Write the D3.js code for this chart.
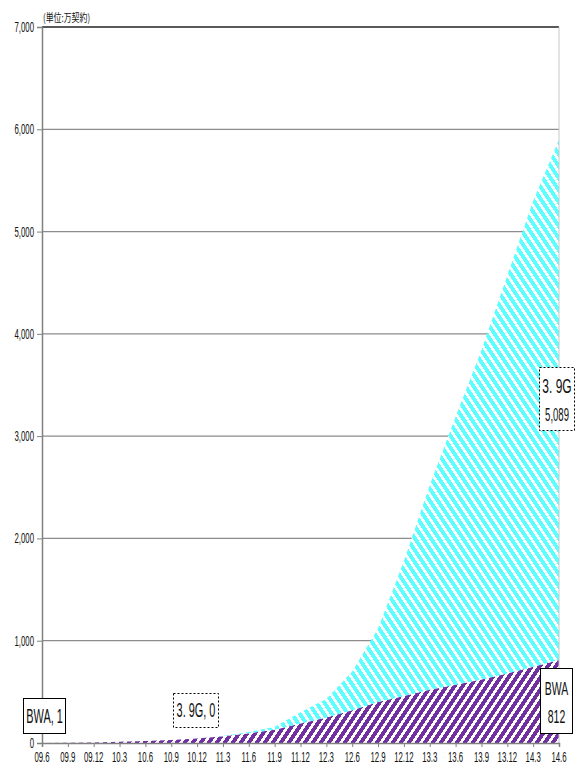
<!DOCTYPE html>
<html><head><meta charset="utf-8">
<script src="https://cdn.jsdelivr.net/npm/d3@7/dist/d3.min.js"></script>
<style>body{margin:0;background:#fff}svg{display:block}</style>
</head><body>
<script>
const quarters = ["09.6","09.9","09.12","10.3","10.6","10.9","10.12","11.3","11.6","11.9","11.12","12.3","12.6","12.9","12.12","13.3","13.6","13.9","13.12","14.3","14.6"];
const bwa = [1,3,6,12,20,30,45,65,95,130,190,250,320,400,460,520,570,620,680,745,812];
const g39 = [0,0,0,0,0,0,0,3,12,30,110,180,380,720,1320,2000,2620,3220,3890,4555,5089];
const yTicks = [0,1000,2000,3000,4000,5000,6000,7000];
const unitLabel = "(単位:万契約)";

const W = 579, H = 769;
const svg = d3.select("body").append("svg").attr("width", W).attr("height", H);
const x = d3.scalePoint().domain(quarters).range([42, 559]);
const y = d3.scaleLinear().domain([0, 7000]).range([743, 27]);
const FONT = "'Liberation Sans', Arial, sans-serif";

const defs = svg.append("defs");
function stripe(id, color, up) {
  const pw = 8, ph = 12, hw = 2.2;
  const p = defs.append("pattern").attr("id", id).attr("patternUnits", "userSpaceOnUse")
    .attr("width", pw).attr("height", ph);
  p.append("rect").attr("width", pw).attr("height", ph).attr("fill", "#fff");
  const yb = up ? ph : 0, yt = up ? 0 : ph;
  [-pw, 0, pw].forEach(o => {
    p.append("path")
      .attr("d", `M${o - hw},${yb} L${o + hw},${yb} L${o + pw + hw},${yt} L${o + pw - hw},${yt} Z`)
      .attr("fill", color).attr("shape-rendering", "crispEdges");
  });
}
stripe("pBWA", "#7030a0", true);
stripe("p39", "#5cffff", false);

// gridlines
svg.append("g").selectAll("line").data(yTicks.filter(d => d > 0 && d < 7000)).join("line")
  .attr("x1", 42).attr("x2", 559).attr("y1", d => y(d)).attr("y2", d => y(d))
  .attr("stroke", "#8c8c8c").attr("stroke-width", 1.2);

// stacked areas
const rows = quarters.map((q, i) => ({q, bwa: bwa[i], g39: g39[i]}));
const series = d3.stack().keys(["bwa", "g39"])(rows);
const area = d3.area().x(d => x(d.data.q)).y0(d => y(d[0])).y1(d => y(d[1]));
svg.append("g").selectAll("path").data(series).join("path")
  .attr("d", area).attr("fill", (d, i) => i === 0 ? "url(#pBWA)" : "url(#p39)");

// frame
svg.append("line").attr("x1", 42).attr("x2", 559).attr("y1", y(7000)).attr("y2", y(7000))
  .attr("stroke", "#222").attr("stroke-width", 1.6);
svg.append("line").attr("x1", 559).attr("x2", 559).attr("y1", y(7000)).attr("y2", y(0))
  .attr("stroke", "#c8c8c8").attr("stroke-width", 1);

// axes
const yAxis = svg.append("g").attr("transform", "translate(42,0)")
  .call(d3.axisLeft(y).tickValues(yTicks).tickSize(5).tickFormat(""));
const xAxis = svg.append("g").attr("transform", `translate(0,${y(0)})`)
  .call(d3.axisBottom(x).tickSize(4).tickFormat(""));
[yAxis, xAxis].forEach(a => {
  a.select(".domain").attr("stroke", "#808080").attr("stroke-width", 1.5);
  a.selectAll(".tick line").attr("stroke", "#808080");
});

function txt(px, py, s, size, sx, anchor, family) {
  svg.append("g").attr("transform", `translate(${px},${py}) scale(${sx},1)`)
    .append("text").attr("text-anchor", anchor || "middle").attr("dominant-baseline", "central")
    .attr("font-family", family || FONT).attr("font-size", size).attr("fill", "#111").text(s);
}
const fmt = d3.format(",");
yTicks.forEach(t => txt(34, y(t), fmt(t), 15, 0.52, "end"));
quarters.forEach(q => txt(x(q), 757, q, 15, 0.52, "middle"));
txt(43, 17, unitLabel, 11, 0.72, "start", "'Noto Sans CJK JP', sans-serif");

function box(x0, y0, w, h, dashed) {
  svg.append("rect").attr("x", x0).attr("y", y0).attr("width", w).attr("height", h)
    .attr("fill", "#fff").attr("stroke", "#000").attr("stroke-width", 1)
    .attr("stroke-dasharray", dashed ? "2,2" : null);
}
box(23.5, 698.5, 42, 35, false);
txt(44.5, 716, "BWA, 1", 21, 0.52);
box(173.5, 693.5, 45, 34, true);
txt(196, 710, "3. 9G, 0", 21, 0.52);
box(539.5, 367.5, 35, 63, true);
txt(557, 386, "3. 9G", 20, 0.6);
txt(557, 415, fmt(g39[g39.length - 1]), 18, 0.53);
box(540.5, 668.5, 32, 65, false);
txt(556.5, 688, "BWA", 19, 0.55);
txt(556.5, 716, fmt(bwa[bwa.length - 1]), 19, 0.55);
</script>
</body></html>
